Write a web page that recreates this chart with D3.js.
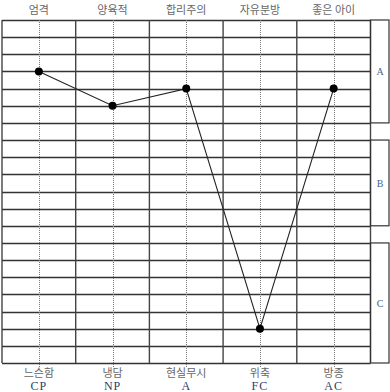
<!DOCTYPE html>
<html>
<head>
<meta charset="utf-8">
<script src="https://cdn.jsdelivr.net/npm/d3@7"></script>
<style>
  body { margin: 0; background: #fff; }
  .topLabel, .bottomLabel { font-family: "Noto Sans CJK KR", sans-serif; font-size: 11px; fill: #666; }
  .code { font-family: "Liberation Serif", serif; font-size: 12px; fill: #2b3f6b; letter-spacing: 1px; }
  .section { font-family: "Liberation Serif", serif; font-size: 10px; fill: #4a5f8a; }
</style>
</head>
<body>
<div id="chart"></div>
<script>
// categories and values
var topLabels = ["엄격", "양육적", "합리주의", "자유분방", "좋은 아이"];
var bottomLabels = ["느슨함", "냉담", "현실무시", "위축", "방종"];
var codes = ["CP", "NP", "A", "FC", "AC"];
var scores = [17, 15, 16, 2, 16];   // 0 = bottom line, 20 = top line

// side sections (score ranges)
var sectionNames = ["A", "B", "C"];
var sectionTop = [20, 13, 7];
var sectionBottom = [14, 8, 0];

var width = 390, height = 392;

var svg = d3.select("#chart")
  .append("svg")
  .attr("width", width)
  .attr("height", height);

var x = d3.scaleBand()
  .domain(topLabels)
  .range([2, 370.5])
  .padding(0);

var y = d3.scaleLinear()
  .domain([0, 20])
  .range([363, 20]);

var cx = function(d) { return x(d) + x.bandwidth() / 2; };

// horizontal grid lines
svg.append("g")
  .selectAll("line")
  .data(y.ticks(20))
  .enter()
  .append("line")
  .attr("x1", 2)
  .attr("x2", 370.5)
  .attr("y1", d => Math.round(y(d)) + 0.5)
  .attr("y2", d => Math.round(y(d)) + 0.5)
  .attr("stroke", "#333")
  .attr("stroke-width", 1.3);

// column separators
var edges = topLabels.map(d => x(d)).concat([370.5]);
svg.append("g")
  .selectAll("line")
  .data(edges)
  .enter()
  .append("line")
  .attr("x1", d => d)
  .attr("x2", d => d)
  .attr("y1", y(20))
  .attr("y2", y(0))
  .attr("stroke", "#444")
  .attr("stroke-width", 1.4);

// dotted centre lines
svg.append("g")
  .selectAll("line")
  .data(topLabels)
  .enter()
  .append("line")
  .attr("x1", d => Math.round(cx(d)) + 0.5)
  .attr("x2", d => Math.round(cx(d)) + 0.5)
  .attr("y1", y(20))
  .attr("y2", y(0) + 5)
  .attr("stroke", "#777")
  .attr("stroke-width", 1)
  .attr("stroke-dasharray", "1,1");

// side boxes
var boxes = svg.append("g")
  .selectAll("g")
  .data(sectionNames)
  .enter()
  .append("g");

boxes.append("rect")
  .attr("x", 370.5)
  .attr("y", (d, i) => y(sectionTop[i]))
  .attr("width", 18.5)
  .attr("height", (d, i) => y(sectionBottom[i]) - y(sectionTop[i]))
  .attr("fill", "none")
  .attr("stroke", "#333")
  .attr("stroke-width", 1.2);

boxes.append("text")
  .attr("class", "section")
  .attr("x", 380)
  .attr("y", (d, i) => (y(sectionTop[i]) + y(sectionBottom[i])) / 2 + 4)
  .attr("text-anchor", "middle")
  .text(d => d);

// profile line
var data = topLabels.map((d, i) => ({ cat: d, value: scores[i] }));

var valueline = d3.line()
  .x(d => cx(d.cat))
  .y(d => y(d.value));

svg.append("path")
  .attr("d", valueline(data))
  .attr("fill", "none")
  .attr("stroke", "#222")
  .attr("stroke-width", 1.1);

svg.selectAll(".point")
  .data(data)
  .enter()
  .append("circle")
  .attr("class", "point")
  .attr("r", 4)
  .attr("cx", d => cx(d.cat))
  .attr("cy", d => y(d.value))
  .attr("fill", "#000");

// labels
svg.append("g")
  .selectAll("text")
  .data(topLabels)
  .enter()
  .append("text")
  .attr("class", "topLabel")
  .attr("x", d => cx(d))
  .attr("y", 14)
  .attr("text-anchor", "middle")
  .text(d => d);

svg.append("g")
  .selectAll("text")
  .data(bottomLabels)
  .enter()
  .append("text")
  .attr("class", "bottomLabel")
  .attr("x", (d, i) => cx(topLabels[i]))
  .attr("y", 377)
  .attr("text-anchor", "middle")
  .text(d => d);

svg.append("g")
  .selectAll("text")
  .data(codes)
  .enter()
  .append("text")
  .attr("class", "code")
  .attr("x", (d, i) => cx(topLabels[i]))
  .attr("y", 390)
  .attr("text-anchor", "middle")
  .text(d => d);
</script>
</body>
</html>
